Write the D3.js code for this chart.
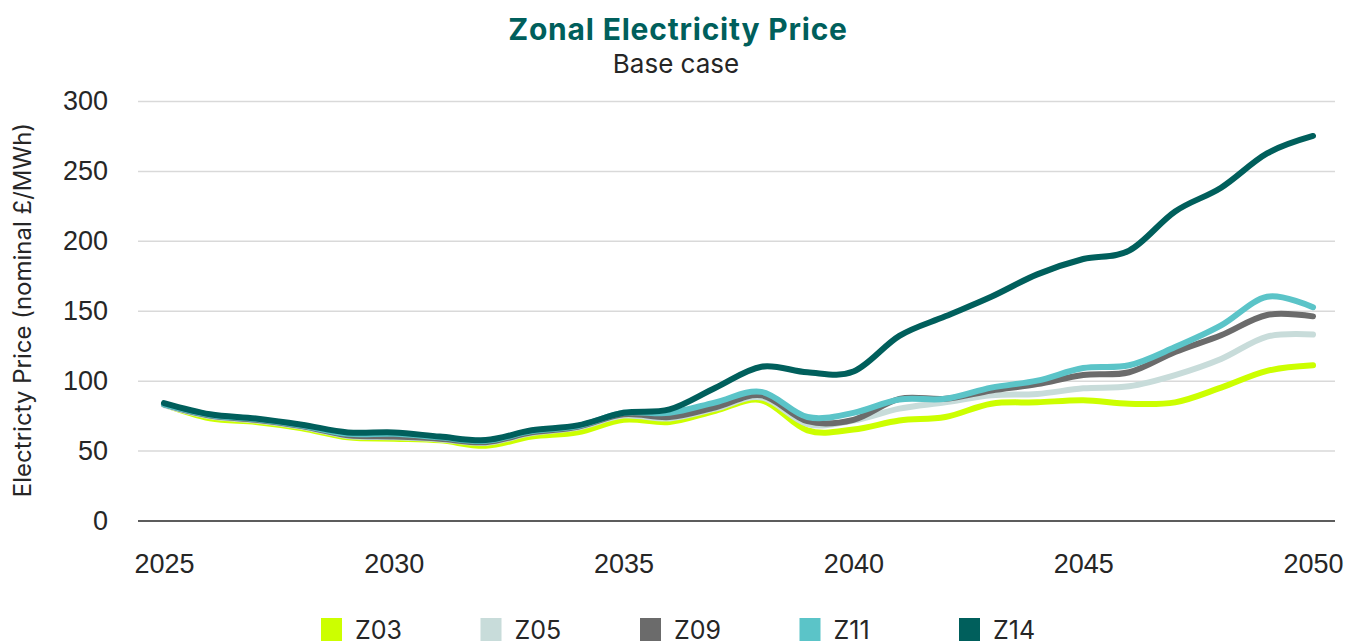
<!DOCTYPE html>
<html>
<head>
<meta charset="utf-8">
<script src="https://cdn.jsdelivr.net/npm/d3@7"></script>
<style>
    body { margin: 0; background: #fff; }
    svg { display: block; font-family: Inter, Roboto, sans-serif; }
    .tick-label { fill: #262626; font-size: 27px; }
</style>
</head>
<body>
<svg id="chart" width="1349" height="641"></svg>
<script>
const years = d3.range( 2025, 2051 );
const seriesNames = [ 'Z03', 'Z05', 'Z09', 'Z11', 'Z14' ];
const seriesColors = [ '#ccff00', '#c8dcda', '#6b6b6b', '#5bc4c8', '#005f5c' ];

const z03 = [ 83, 73, 70.5, 66, 59.5, 58.5, 57.3, 53.5, 60, 63, 72, 70.5, 78.5, 86, 64.5, 65, 71.5, 74, 83.5, 84.5, 86, 83.5, 84.5, 95, 107, 111 ];
const z05 = [ 82.5, 74.5, 71.5, 67, 60.5, 59.5, 58, 55.5, 62.5, 66.5, 75, 73, 80, 88, 69, 71.5, 80, 84.5, 89.5, 90.5, 94.5, 96, 104, 115.5, 131.5, 133 ];
const z09 = [ 83, 75, 72, 67.5, 61, 60, 58.5, 56, 63, 67, 76, 74, 81, 89.5, 71, 72, 87, 87, 93, 97.5, 104, 106, 120.5, 132.5, 147, 146 ];
const z11 = [ 83, 75.5, 72.5, 68, 62, 62, 59.5, 57, 64, 67.5, 77, 77, 84.5, 92, 74, 77, 86.5, 87, 95, 100, 109, 111, 124, 139.5, 160, 152.5 ];
const z14 = [ 84, 76, 73, 68.5, 63, 63, 60, 57.5, 64.5, 68, 77, 79.5, 95, 110, 106, 106.5, 132, 146, 160, 176, 187, 193, 221, 238, 262.5, 275 ];
const seriesValues = [ z03, z05, z09, z11, z14 ];

const yTicks = [ 0, 50, 100, 150, 200, 250, 300 ];
const xTicks = [ 2025, 2030, 2035, 2040, 2045, 2050 ];

const titleText = 'Zonal Electricity Price';
const subtitleText = 'Base case';
const yLabelText = 'Electricty Price (nominal £/MWh)';

function drawChart() {
    const svg = d3.select( '#chart' );
    const config = { gridLeft: 138, gridRight: 1335, xLeft: 164, xRight: 1313, yTop: 101, yBottom: 520.5 };

    const xScale = d3.scaleLinear().domain( [ 2025, 2050 ] ).range( [ config.xLeft, config.xRight ] );
    const yScale = d3.scaleLinear().domain( [ 0, 300 ] ).range( [ config.yBottom, config.yTop ] );

    // titles
    svg.append( 'text' )
        .attr( 'x', 678 ).attr( 'y', 40 )
        .attr( 'text-anchor', 'middle' )
        .attr( 'font-size', 30 ).attr( 'font-weight', 700 )
        .attr( 'letter-spacing', 0.8 )
        .attr( 'fill', '#005f5c' )
        .text( titleText );
    svg.append( 'text' )
        .attr( 'x', 676 ).attr( 'y', 73 )
        .attr( 'text-anchor', 'middle' )
        .attr( 'font-size', 26 )
        .attr( 'fill', '#262626' )
        .text( subtitleText );

    // gridlines + y labels
    const yAxis = d3.axisLeft( yScale )
        .tickValues( yTicks )
        .tickSize( -(config.gridRight - config.gridLeft) )
        .tickPadding( 30 );
    const yAxisGroup = svg.append( 'g' )
        .attr( 'class', 'y-axis' )
        .attr( 'transform', `translate(${config.gridLeft},0)` )
        .call( yAxis );
    yAxisGroup.select( '.domain' ).remove();
    yAxisGroup.selectAll( '.tick line' )
        .attr( 'stroke', d => d === 0 ? '#262626' : '#d9d9d9' )
        .attr( 'stroke-width', 1.5 );
    yAxisGroup.selectAll( '.tick text' )
        .attr( 'class', 'tick-label' )
        .attr( 'font-family', null ).attr( 'font-size', null );

    // x labels
    const xAxis = d3.axisBottom( xScale )
        .tickValues( xTicks )
        .tickFormat( d3.format( 'd' ) )
        .tickSize( 0 )
        .tickPadding( 33 );
    const xAxisGroup = svg.append( 'g' )
        .attr( 'class', 'x-axis' )
        .attr( 'transform', `translate(0,${config.yBottom})` )
        .call( xAxis );
    xAxisGroup.select( '.domain' ).remove();
    xAxisGroup.selectAll( '.tick text' )
        .attr( 'class', 'tick-label' )
        .attr( 'font-family', null ).attr( 'font-size', null );

    // y axis title
    svg.append( 'text' )
        .attr( 'transform', 'translate(31,310) rotate(-90)' )
        .attr( 'text-anchor', 'middle' )
        .attr( 'font-size', 24 )
        .attr( 'fill', '#262626' )
        .text( yLabelText );

    // lines
    const line = d3.line()
        .x( ( d, i ) => xScale( years[ i ] ) )
        .y( d => yScale( d ) )
        .curve( d3.curveCatmullRom.alpha( 0 ) );
    svg.append( 'g' ).attr( 'class', 'lines' )
        .selectAll( 'path' ).data( seriesValues )
        .enter().append( 'path' )
        .attr( 'd', line )
        .attr( 'fill', 'none' )
        .attr( 'stroke', ( d, i ) => seriesColors[ i ] )
        .attr( 'stroke-width', 6 )
        .attr( 'stroke-linecap', 'round' )
        .attr( 'stroke-linejoin', 'round' );

    // legend
    const legend = svg.append( 'g' ).attr( 'class', 'legend' )
        .selectAll( 'g' ).data( seriesNames )
        .enter().append( 'g' )
        .attr( 'transform', ( d, i ) => `translate(${321 + i * 159.5},618)` );
    legend.append( 'rect' )
        .attr( 'width', 21 ).attr( 'height', 23 )
        .attr( 'fill', ( d, i ) => seriesColors[ i ] );
    legend.append( 'text' )
        .attr( 'x', 34 ).attr( 'y', 21 )
        .attr( 'font-size', 25 )
        .attr( 'fill', '#262626' )
        .text( d => d );
}

drawChart();
</script>
</body>
</html>
